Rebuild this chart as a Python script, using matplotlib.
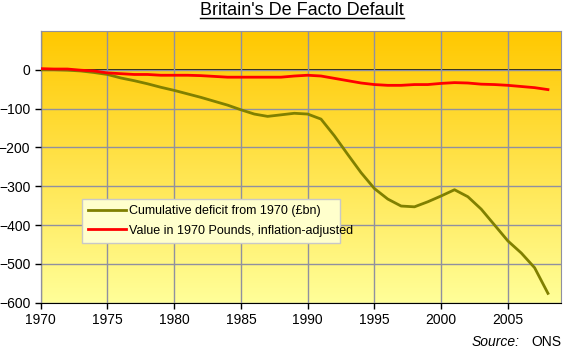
import numpy as np
import matplotlib
matplotlib.use("Agg")
import matplotlib.pyplot as plt
from matplotlib.colors import LinearSegmentedColormap
from matplotlib.lines import Line2D

plt.rcParams["font.family"] = ["Liberation Sans", "DejaVu Sans"]

# veri: grafikten okunan yaklaşık değerler
years = list(range(1970, 2009))
cumulative_deficit = [0, 0, -1, -3, -7, -12, -21, -28, -36, -45,
                      -53, -62, -71, -81, -91, -103, -114, -120, -116, -112,
                      -114, -127, -170, -218, -265, -306, -333, -351, -353, -340,
                      -325, -309, -327, -359, -400, -441, -472, -510, -576]
value_1970_pounds = [3, 2, 2, -1, -3, -8, -10, -12, -12, -14,
                     -14, -14, -15, -17, -19, -19, -19, -19, -19, -16,
                     -14, -16, -22, -28, -34, -38, -40, -40, -38, -38,
                     -35, -33, -34, -37, -38, -40, -43, -46, -51]
x_ticks = [1970, 1975, 1980, 1985, 1990, 1995, 2000, 2005]
y_ticks = [0, -100, -200, -300, -400, -500, -600]
legend_labels = ["Cumulative deficit from 1970 (£bn)",
                 "Value in 1970 Pounds, inflation-adjusted"]

fig = plt.figure(figsize=(5.83, 3.6), dpi=100)
ax = fig.add_axes([0.0698, 0.1592, 0.893, 0.7547])

# arka plan gradyanı
grad = np.linspace(0, 1, 256).reshape(-1, 1)
cmap = LinearSegmentedColormap.from_list("bg", ["#FFC800", "#FFFF99"])
ax.imshow(grad, cmap=cmap, aspect="auto", extent=[1970, 2009, -600, 100],
          origin="upper", zorder=0)

ax.set_xlim(1970, 2009)
ax.set_ylim(-600, 100)
ax.set_xticks(x_ticks)
ax.set_yticks(y_ticks)
ax.tick_params(labelsize=10, length=4, width=1, color="black")
ax.grid(True, color="#9090A0", linewidth=1, zorder=1)
ax.set_axisbelow(False)
ax.axhline(0, color="black", linewidth=1.2, zorder=2)

for side in ["top", "right"]:
    ax.spines[side].set_color("#9090A0")
for side in ["left", "bottom"]:
    ax.spines[side].set_color("black")

l1, = ax.plot(years, cumulative_deficit, color="#808000", linewidth=2, zorder=3)
l2, = ax.plot(years, value_1970_pounds, color="#FF0000", linewidth=2, zorder=3)

leg = ax.legend([l1, l2], legend_labels, loc="lower left",
                bbox_to_anchor=(0.0672, 0.1965, 0.519, 0.17), mode="expand",
                fontsize=9, frameon=True, fancybox=False, handlelength=3.0,
                borderpad=0.5, labelspacing=0.62, handletextpad=0.3)
leg.get_frame().set_facecolor("#FFFFCC")
leg.get_frame().set_edgecolor("#C8C8C8")
leg.get_frame().set_alpha(1)
leg.set_zorder(5)

# başlık ve altı çizgi
title = fig.text(302 / 583, 1 - 15 / 360, "Britain's De Facto Default",
                 ha="center", va="baseline", fontsize=13)
fig.canvas.draw()
bb = title.get_window_extent().transformed(fig.transFigure.inverted())
fig.add_artist(Line2D([bb.x0, bb.x1], [1 - 18 / 360] * 2,
                      transform=fig.transFigure, color="black", linewidth=1))

fig.text(520 / 583, 1 - 342 / 360, "Source:", ha="right", va="center",
         fontsize=10, style="italic")
fig.text(561.5 / 583, 1 - 342 / 360, "ONS", ha="right", va="center", fontsize=10)

fig.savefig("out.png", dpi=100)
